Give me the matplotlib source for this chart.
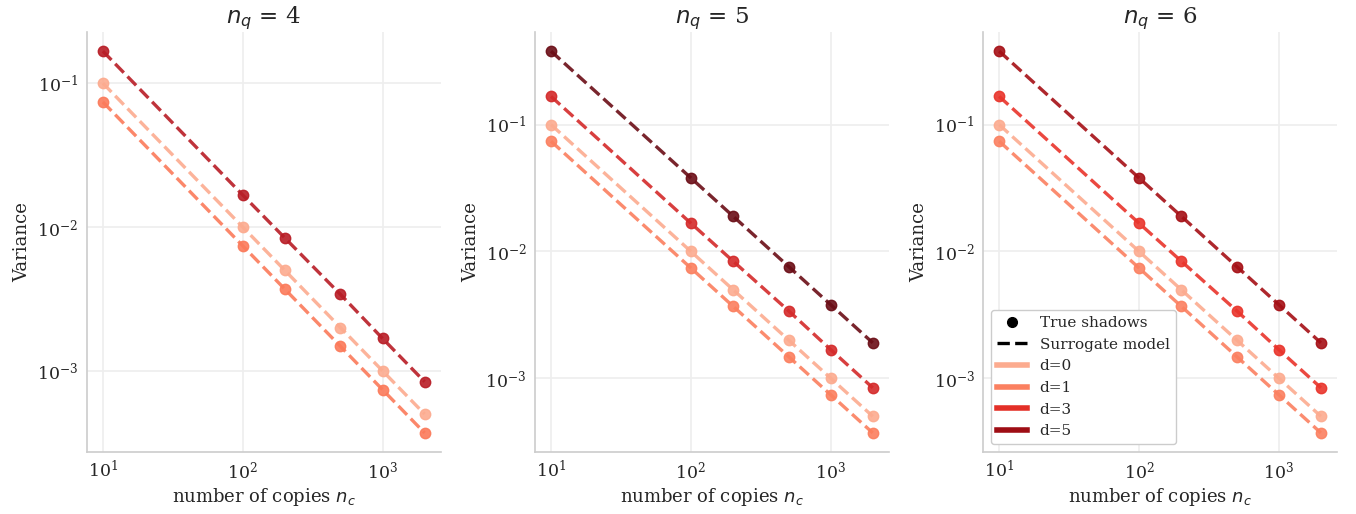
#!/usr/bin/env python3
import matplotlib
matplotlib.use("Agg")
import matplotlib.pyplot as plt
from matplotlib.lines import Line2D

plt.rcParams["font.family"] = "DejaVu Serif"
plt.rcParams["mathtext.fontset"] = "dejavusans"

copies = [10, 100, 200, 500, 1000, 2000]
titles = ["$n_q$ = 4", "$n_q$ = 5", "$n_q$ = 6"]

var_d0 = [0.1, 0.01, 0.005, 0.002, 0.001, 0.0005]
var_d1 = [0.074, 0.0074, 0.0037, 0.00148, 0.00074, 0.00037]
var_d3 = [0.167, 0.0167, 0.0084, 0.0034, 0.00168, 0.00084]
var_d5 = [0.38, 0.038, 0.019, 0.0076, 0.0038, 0.0019]

# per panel: (label, values, colour)
panels = [
    [("d=0", var_d0, "#fcab8f"), ("d=1", var_d1, "#fb7a5a"), ("d=3", var_d3, "#b81d26")],
    [("d=0", var_d0, "#fcab8f"), ("d=1", var_d1, "#fb7f5e"), ("d=3", var_d3, "#d42a2a"), ("d=5", var_d5, "#6b0d16")],
    [("d=0", var_d0, "#fcab8f"), ("d=1", var_d1, "#fb8060"), ("d=3", var_d3, "#e9342b"), ("d=5", var_d5, "#a50f15")],
]
legend_cols = [("d=0", "#fcab8f"), ("d=1", "#fb8060"), ("d=3", "#e32f27"), ("d=5", "#9e0d14")]

fig = plt.figure(figsize=(13.56, 5.14), dpi=100)
lefts = [0.064, 0.3945, 0.725]
grid_c = "#eeeeee"
spine_c = "#cccccc"
text_c = "#262626"

for i, (left, title, series) in enumerate(zip(lefts, titles, panels)):
    ax = fig.add_axes([left, 0.1206, 0.261, 0.817])
    for label, vals, col in series:
        ax.plot(copies, vals, ls="--", lw=2.4, color=col, alpha=0.9, zorder=2)
        ax.plot(copies, vals, ls="none", marker="o", ms=7.5, color=col, alpha=0.9, zorder=3)
    ax.set_xscale("log")
    ax.set_yscale("log")
    ax.minorticks_off()
    ax.grid(True, color=grid_c, lw=1.2)
    ax.set_axisbelow(True)
    for s in ["top", "right"]:
        ax.spines[s].set_visible(False)
    for s in ["left", "bottom"]:
        ax.spines[s].set_color(spine_c)
        ax.spines[s].set_linewidth(1.2)
    ax.tick_params(length=0, labelsize=12.5, colors=text_c, pad=6)
    ax.set_title(title, fontsize=16.5, color=text_c, pad=6)
    ax.set_xlabel("number of copies $n_c$", fontsize=13, color=text_c, labelpad=3)
    ax.set_ylabel("Variance", fontsize=13, color=text_c)

    if i == 2:
        handles = [
            Line2D([], [], ls="none", marker="o", ms=7, color="black"),
            Line2D([], [], ls="--", lw=2.4, color="black"),
        ]
        labels = ["True shadows", "Surrogate model"]
        for lab, col in legend_cols:
            handles.append(Line2D([], [], lw=4, color=col))
            labels.append(lab)
        leg = ax.legend(handles, labels, loc="lower left", fontsize=11,
                        frameon=True, framealpha=1, edgecolor=spine_c)
        for t in leg.get_texts():
            t.set_color(text_c)

fig.savefig("out.png", dpi=100)
